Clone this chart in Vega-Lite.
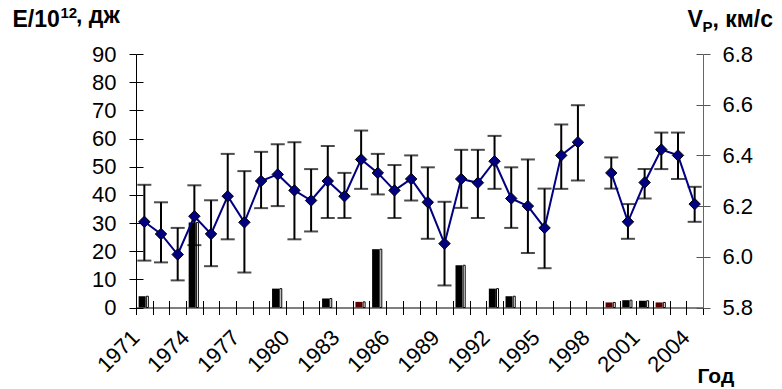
{
  "$schema": "https://vega.github.io/schema/vega-lite/v6.json",
  "width": 567,
  "height": 253.5,
  "autosize": "none",
  "padding": {"left": 136, "top": 54, "right": 79, "bottom": 81.5},
  "title": {"text": ", дж", "anchor": "start", "frame": "group", "orient": "top", "offset": 0, "dx": -60, "dy": 41, "baseline": "alphabetic", "font": "Liberation Sans", "fontSize": 23, "fontWeight": "bold", "color": "#000"},
  "config": {
    "font": "Liberation Sans",
    "view": {"stroke": null},
    "axis": {"grid": false, "labelFont": "Liberation Sans", "titleFont": "Liberation Sans", "labelColor": "#000", "titleColor": "#000"}
  },
  "data": {"values": [
    {"year": 1971, "V": 6.138, "lo": 5.985, "hi": 6.284, "seg": "a", "E": 4.0, "c": "k"},
    {"year": 1972, "V": 6.090, "lo": 5.978, "hi": 6.215, "seg": "a"},
    {"year": 1973, "V": 6.009, "lo": 5.907, "hi": 6.114, "seg": "a"},
    {"year": 1974, "V": 6.160, "lo": 6.046, "hi": 6.282, "seg": "a", "E": 30.2, "c": "k"},
    {"year": 1975, "V": 6.090, "lo": 5.963, "hi": 6.223, "seg": "a"},
    {"year": 1976, "V": 6.239, "lo": 6.069, "hi": 6.406, "seg": "a"},
    {"year": 1977, "V": 6.136, "lo": 5.938, "hi": 6.338, "seg": "a"},
    {"year": 1978, "V": 6.299, "lo": 6.192, "hi": 6.414, "seg": "a"},
    {"year": 1979, "V": 6.325, "lo": 6.200, "hi": 6.444, "seg": "a", "E": 6.7, "c": "k"},
    {"year": 1980, "V": 6.262, "lo": 6.069, "hi": 6.452, "seg": "a"},
    {"year": 1981, "V": 6.222, "lo": 6.100, "hi": 6.346, "seg": "a"},
    {"year": 1982, "V": 6.299, "lo": 6.153, "hi": 6.437, "seg": "a", "E": 3.2, "c": "k"},
    {"year": 1983, "V": 6.239, "lo": 6.153, "hi": 6.331, "seg": "a"},
    {"year": 1984, "V": 6.384, "lo": 6.268, "hi": 6.498, "seg": "a", "E": 2.0, "c": "m"},
    {"year": 1985, "V": 6.331, "lo": 6.246, "hi": 6.406, "seg": "a", "E": 20.7, "c": "k"},
    {"year": 1986, "V": 6.262, "lo": 6.153, "hi": 6.362, "seg": "a"},
    {"year": 1987, "V": 6.307, "lo": 6.222, "hi": 6.400, "seg": "a"},
    {"year": 1988, "V": 6.215, "lo": 6.071, "hi": 6.353, "seg": "a"},
    {"year": 1989, "V": 6.052, "lo": 5.887, "hi": 6.217, "seg": "a"},
    {"year": 1990, "V": 6.307, "lo": 6.193, "hi": 6.422, "seg": "a", "E": 15.0, "c": "k"},
    {"year": 1991, "V": 6.292, "lo": 6.153, "hi": 6.422, "seg": "a"},
    {"year": 1992, "V": 6.377, "lo": 6.268, "hi": 6.477, "seg": "a", "E": 6.7, "c": "k"},
    {"year": 1993, "V": 6.230, "lo": 6.114, "hi": 6.353, "seg": "a", "E": 4.0, "c": "k"},
    {"year": 1994, "V": 6.200, "lo": 6.015, "hi": 6.384, "seg": "a"},
    {"year": 1995, "V": 6.114, "lo": 5.955, "hi": 6.269, "seg": "a"},
    {"year": 1996, "V": 6.400, "lo": 6.268, "hi": 6.522, "seg": "a"},
    {"year": 1997, "V": 6.452, "lo": 6.301, "hi": 6.598, "seg": "a"},
    {"year": 1998},
    {"year": 1999, "V": 6.331, "lo": 6.269, "hi": 6.392, "seg": "b", "E": 1.8, "c": "m"},
    {"year": 2000, "V": 6.138, "lo": 6.071, "hi": 6.208, "seg": "b", "E": 2.6, "c": "k"},
    {"year": 2001, "V": 6.293, "lo": 6.230, "hi": 6.346, "seg": "b", "E": 2.4, "c": "k"},
    {"year": 2002, "V": 6.423, "lo": 6.346, "hi": 6.490, "seg": "b", "E": 1.8, "c": "m"},
    {"year": 2003, "V": 6.400, "lo": 6.307, "hi": 6.490, "seg": "b"},
    {"year": 2004, "V": 6.208, "lo": 6.138, "hi": 6.276, "seg": "b"}
  ]},
  "layer": [
    {
      "encoding": {
        "x": {
          "field": "year", "type": "ordinal",
          "scale": {"paddingInner": 0, "paddingOuter": 0},
          "axis": {
            "orient": "bottom", "tickBand": "extent", "tickSize": 7, "tickColor": "#000", "tickWidth": 1,
            "domainColor": "#000", "domainWidth": 1,
            "labelExpr": "datum.value % 3 == 0 ? datum.label : ''",
            "labelAngle": -45, "labelAlign": "right", "labelBaseline": "alphabetic",
            "labelFontSize": 22, "labelPadding": 24, "labelOffset": -4, "labelOverlap": false,
            "title": "Год", "titleX": 561, "titleY": 75, "titleAlign": "left", "titleBaseline": "alphabetic",
            "titleAngle": 0, "titleFontSize": 21, "titleFontWeight": "bold"
          }
        }
      },
      "layer": [
        {
          "mark": {"type": "bar", "width": 7, "xOffset": -2.2},
          "encoding": {
            "y": {
              "field": "E", "type": "quantitative",
              "scale": {"domain": [0, 90], "nice": false},
              "axis": {
                "orient": "left", "values": [0, 10, 20, 30, 40, 50, 60, 70, 80, 90],
                "tickSize": 7, "tickColor": "#000", "domainColor": "#000",
                "labelFontSize": 22, "labelPadding": 13,
                "title": "E/10", "titleAngle": 0, "titleX": -124, "titleY": -28,
                "titleAlign": "left", "titleBaseline": "alphabetic", "titleFontSize": 23, "titleFontWeight": "bold"
              }
            },
            "color": {"field": "c", "type": "nominal", "scale": {"domain": ["k", "m"], "range": ["#000000", "#5c0000"]}, "legend": null}
          }
        },
        {
          "mark": {"type": "bar", "width": 2, "xOffset": 3, "fill": "#ffffff", "stroke": "#000000", "strokeWidth": 1},
          "encoding": {
            "y": {
              "field": "E", "type": "quantitative",
              "scale": {"domain": [0, 90], "nice": false},
              "axis": {
                "orient": "left", "values": [0, 10, 20, 30, 40, 50, 60, 70, 80, 90],
                "tickSize": -7, "tickColor": "#000", "domain": false, "labels": false,
                "title": "12", "titleAngle": 0, "titleX": -76, "titleY": -37,
                "titleAlign": "left", "titleBaseline": "alphabetic", "titleFontSize": 15, "titleFontWeight": "bold"
              }
            }
          }
        }
      ],
      "resolve": {"axis": {"y": "independent"}}
    },
    {
      "encoding": {
        "x": {
          "field": "year", "type": "ordinal",
          "scale": {"paddingInner": 0, "paddingOuter": 0},
          "axis": {
            "orient": "bottom", "tickBand": "extent", "tickSize": -7, "tickColor": "#000", "tickWidth": 1,
            "domain": false, "labels": false,
            "title": ", км/с", "titleX": 576, "titleY": -281.5, "titleAlign": "left", "titleBaseline": "alphabetic",
            "titleAngle": 0, "titleFontSize": 23, "titleFontWeight": "bold"
          }
        }
      },
      "layer": [
        {
          "mark": {"type": "rule", "color": "#000000", "strokeWidth": 2},
          "encoding": {
            "y": {
              "field": "lo", "type": "quantitative",
              "scale": {"domain": [5.8, 6.8], "nice": false, "zero": false},
              "axis": {
                "orient": "right", "values": [5.8, 6.0, 6.2, 6.4, 6.6, 6.8], "format": ".1f",
                "tickSize": 7, "tickColor": "#555", "domainColor": "#666",
                "labelFontSize": 22, "labelPadding": 12,
                "title": "V", "titleAngle": 0, "titleX": -16, "titleY": -28,
                "titleAlign": "left", "titleBaseline": "alphabetic", "titleFontSize": 23, "titleFontWeight": "bold"
              }
            },
            "y2": {"field": "hi"}
          }
        },
        {
          "mark": {"type": "tick", "color": "#000000", "thickness": 2, "size": 14},
          "encoding": {
            "y": {
              "field": "lo", "type": "quantitative",
              "scale": {"domain": [5.8, 6.8], "nice": false, "zero": false},
              "axis": {
                "orient": "right", "values": [5.8, 6.0, 6.2, 6.4, 6.6, 6.8],
                "tickSize": -7, "tickColor": "#555", "domain": false, "labels": false,
                "title": "P", "titleAngle": 0, "titleX": -1, "titleY": -23,
                "titleAlign": "left", "titleBaseline": "alphabetic", "titleFontSize": 15, "titleFontWeight": "bold"
              }
            }
          }
        },
        {
          "mark": {"type": "tick", "color": "#000000", "thickness": 2, "size": 14},
          "encoding": {
            "y": {"field": "hi", "type": "quantitative", "scale": {"domain": [5.8, 6.8], "nice": false, "zero": false}, "axis": null}
          }
        },
        {
          "mark": {"type": "line", "color": "#000080", "strokeWidth": 2},
          "encoding": {
            "y": {"field": "V", "type": "quantitative", "scale": {"domain": [5.8, 6.8], "nice": false, "zero": false}, "axis": null},
            "detail": {"field": "seg", "type": "nominal"}
          }
        },
        {
          "mark": {"type": "point", "shape": "diamond", "filled": true, "fill": "#000080", "stroke": "#000000", "strokeWidth": 1, "size": 130, "opacity": 1},
          "encoding": {
            "y": {"field": "V", "type": "quantitative", "scale": {"domain": [5.8, 6.8], "nice": false, "zero": false}, "axis": null}
          }
        }
      ],
      "resolve": {"axis": {"y": "independent"}}
    }
  ],
  "resolve": {"scale": {"y": "independent"}, "axis": {"x": "independent"}}
}
